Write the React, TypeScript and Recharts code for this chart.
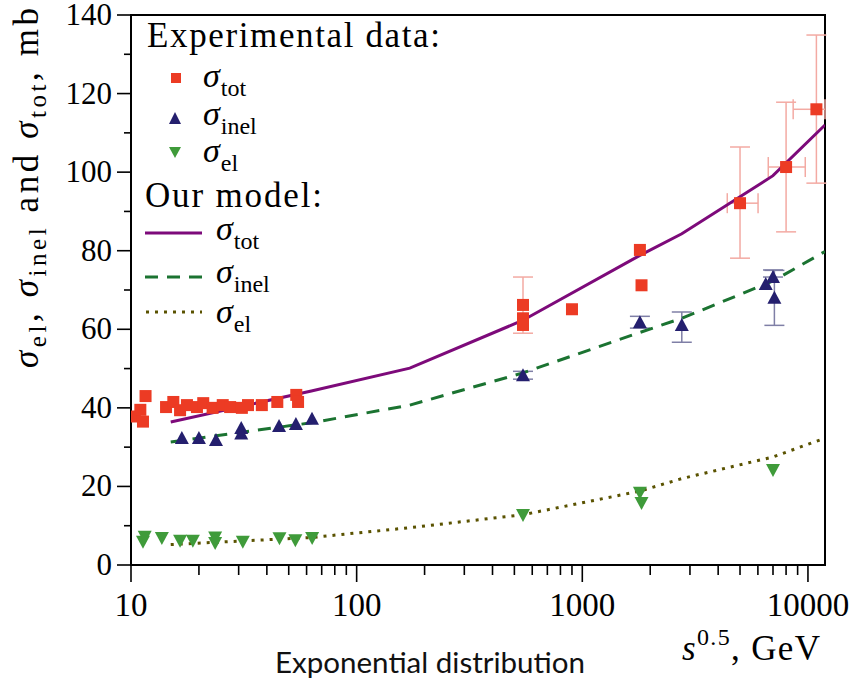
import { ComposedChart, Scatter, Line, XAxis, YAxis, ErrorBar, ReferenceArea } from 'recharts';

// experimental points: x = sqrt(s) GeV, y = mb, ey/ex = [minus, plus]
const totExp = [
  { x: 10.4, y: 37.8 }, { x: 11.0, y: 39.5 }, { x: 11.3, y: 36.5 }, { x: 11.6, y: 43.0 },
  { x: 14.3, y: 40.2 }, { x: 15.4, y: 41.5 }, { x: 16.5, y: 39.4 }, { x: 17.7, y: 40.7 },
  { x: 19.6, y: 40.2 }, { x: 20.9, y: 41.2 }, { x: 23.0, y: 40.0 }, { x: 25.5, y: 40.7 },
  { x: 27.5, y: 40.2 }, { x: 31.0, y: 40.0 }, { x: 33.0, y: 40.7 }, { x: 38.0, y: 40.7 },
  { x: 44.5, y: 41.5 }, { x: 54.0, y: 43.3 }, { x: 55.0, y: 41.5 },
  { x: 546, y: 66.2 }, { x: 546, y: 62.8, ey: [3.8, 10.5] }, { x: 546, y: 61.1 },
  { x: 900, y: 65.1 },
  { x: 1800, y: 80.2 }, { x: 1830, y: 71.2 },
  { x: 5000, y: 92.1, ey: [14, 14.3], ex: [610, 1010] },
  { x: 8000, y: 101.3, ey: [16.5, 16.5], ex: [1330, 1730] },
  { x: 10900, y: 116, ey: [18.8, 18.9], ex: [2300, 1000] },
];

const inelExp = [
  { x: 16.8, y: 32.3 }, { x: 20.0, y: 32.3 }, { x: 23.8, y: 31.8 }, { x: 30.8, y: 34.9 },
  { x: 30.8, y: 33.5 }, { x: 45.3, y: 35.4 }, { x: 53.8, y: 35.9 }, { x: 63.4, y: 37.2 },
  { x: 546, y: 48.3, ey: [1, 1] }, { x: 1800, y: 61.8, ey: [1.5, 1.5] },
  { x: 2760, y: 61.1, ey: [4.4, 3.3] },
  { x: 6500, y: 71.5 }, { x: 7000, y: 73.3, ey: [0, 1.8] }, { x: 7100, y: 68.0, ey: [7, 7] },
];

const elExp = [
  { x: 11.3, y: 5.9 }, { x: 11.5, y: 7.2 }, { x: 13.7, y: 6.9 }, { x: 16.5, y: 6.2 },
  { x: 18.8, y: 6.2 }, { x: 23.6, y: 7.0 }, { x: 23.6, y: 5.6 }, { x: 31.3, y: 5.9 },
  { x: 45.5, y: 6.8 }, { x: 53.5, y: 6.3 }, { x: 63.5, y: 6.9 },
  { x: 546, y: 12.7 }, { x: 1800, y: 18.4 }, { x: 1830, y: 15.8 }, { x: 7000, y: 24.2 },
];

// model curves
const modelX = [15, 63, 172, 546, 1800, 2760, 7000, 11900];
const modelTot = [36.4, 44.3, 50.1, 62.3, 78.8, 84.3, 99.1, 112];
const modelInel = [31.3, 36.2, 40.7, 48.9, 59.2, 62.8, 72.3, 79.8];
const modelEl = [5.2, 7.0, 9.5, 12.8, 18.8, 22.0, 27.5, 32.3];

const xTicks = [
  10, 20, 30, 40, 50, 60, 70, 80, 90,
  100, 200, 300, 400, 500, 600, 700, 800, 900,
  1000, 2000, 3000, 4000, 5000, 6000, 7000, 8000, 9000, 10000,
];
const xDecades = [10, 100, 1000, 10000];
const yTicks = [0, 10, 20, 30, 40, 50, 60, 70, 80, 90, 100, 110, 120, 130, 140];

const toSeries = (ys: number[]) => modelX.map((x, i) => ({ x, y: ys[i] }));

const SERIF = '"Liberation Serif", "Times New Roman", serif';
const RED = '#ec3b24';
const BLUE = '#241f6e';
const GREEN = '#3f9b3a';
const PURPLE = '#7d0a7a';
const DGREEN = '#1b7331';
const OLIVE = '#5a5200';

const Square = (p: any) => <rect x={p.cx - 6} y={p.cy - 6} width={12} height={12} fill={RED} />;
const TriUp = (p: any) => (
  <polygon points={`${p.cx - 7},${p.cy + 6} ${p.cx + 7},${p.cy + 6} ${p.cx},${p.cy - 7}`} fill={BLUE} />
);
const TriDown = (p: any) => (
  <polygon points={`${p.cx - 7},${p.cy - 6} ${p.cx + 7},${p.cy - 6} ${p.cx},${p.cy + 7}`} fill={GREEN} />
);

function XTick({ x, y, payload }: any) {
  const major = xDecades.includes(payload.value);
  return (
    <g>
      <line x1={x} x2={x} y1={y} y2={y + (major ? 17 : 10)} stroke="#000" strokeWidth={1.6} />
      {major && (
        <text x={x} y={y + 51} textAnchor="middle" fontFamily={SERIF} fontSize={33} fill="#000">
          {payload.value}
        </text>
      )}
    </g>
  );
}

function YTick({ x, y, payload }: any) {
  const major = payload.value % 20 === 0;
  return (
    <g>
      <line x1={x - (major ? 14 : 7)} x2={x} y1={y} y2={y} stroke="#000" strokeWidth={1.6} />
      {major && (
        <text x={x - 19} y={y + 10} textAnchor="end" fontFamily={SERIF} fontSize={31} fill="#000">
          {payload.value}
        </text>
      )}
    </g>
  );
}

function Sigma({ x, y, sub }: { x: number; y: number; sub: string }) {
  return (
    <text x={x} y={y} fontFamily={SERIF} fontSize={34} fill="#000">
      <tspan fontStyle="italic">σ</tspan>
      <tspan fontSize={24} dy={9} dx={1}>{sub}</tspan>
    </text>
  );
}

function Overlay() {
  return (
    <svg width={855} height={683} style={{ position: 'absolute', left: 0, top: 0, pointerEvents: 'none' }}>
      {/* legend */}
      <text x={147} y={47} fontFamily={SERIF} fontSize={35} textLength={293} lengthAdjust="spacing">Experimental data:</text>
      <rect x={171} y={73} width={10} height={10} fill={RED} />
      <Sigma x={203} y={87} sub="tot" />
      <polygon points="169,124 181,124 175,112" fill={BLUE} />
      <Sigma x={203} y={125} sub="inel" />
      <polygon points="169,147 181,147 175,158" fill={GREEN} />
      <Sigma x={203} y={162} sub="el" />
      <text x={145} y={207} fontFamily={SERIF} fontSize={35} textLength={177} lengthAdjust="spacing">Our model:</text>
      <line x1={145} x2={202} y1={233} y2={233} stroke={PURPLE} strokeWidth={3} />
      <Sigma x={216} y={240} sub="tot" />
      <line x1={145} x2={202} y1={277} y2={277} stroke={DGREEN} strokeWidth={3} strokeDasharray="13 9" />
      <Sigma x={216} y={283} sub="inel" />
      <line x1={146} x2={202} y1={312} y2={312} stroke={OLIVE} strokeWidth={3} strokeDasharray="3 6" />
      <Sigma x={216} y={323} sub="el" />

      {/* y axis label */}
      <text transform="rotate(-90)" x={-188} y={38} textAnchor="middle" fontFamily={SERIF} fontSize={35}
        textLength={360} lengthAdjust="spacing">
        <tspan fontStyle="italic">σ</tspan>
        <tspan fontSize={25} dy={8}>el</tspan>
        <tspan dy={-8}>, </tspan>
        <tspan fontStyle="italic">σ</tspan>
        <tspan fontSize={25} dy={8}>inel</tspan>
        <tspan dy={-8}> and </tspan>
        <tspan fontStyle="italic">σ</tspan>
        <tspan fontSize={25} dy={8}>tot</tspan>
        <tspan dy={-8}>, mb</tspan>
      </text>

      {/* x axis label */}
      <text x={682} y={660} fontFamily={SERIF} fontSize={35} textLength={138} lengthAdjust="spacing">
        <tspan fontStyle="italic">s</tspan>
        <tspan fontSize={24} dy={-15}>0.5</tspan>
        <tspan dy={15}>, GeV</tspan>
      </text>

      <text x={430} y={673} textAnchor="middle" fontFamily="Lato, 'Open Sans', sans-serif" fontSize={28}
        textLength={310} lengthAdjust="spacingAndGlyphs" fill="#111">
        Exponential distribution
      </text>
    </svg>
  );
}

export default function App() {
  return (
    <div style={{ position: 'absolute', left: 0, top: 0, width: 855, height: 683, background: '#fff' }}>
      <ComposedChart width={855} height={683} margin={{ top: 15, right: 30, left: 51, bottom: 58 }}>
        <XAxis
          dataKey="x"
          type="number"
          scale="log"
          domain={[10, 11900]}
          allowDataOverflow
          ticks={xTicks}
          interval={0}
          height={60}
          tickSize={0}
          tickMargin={0}
          tick={<XTick />}
          axisLine={{ stroke: '#000', strokeWidth: 2 }}
        />
        <YAxis
          type="number"
          domain={[0, 140]}
          ticks={yTicks}
          interval={0}
          width={80}
          tickSize={0}
          tickMargin={0}
          tick={<YTick />}
          axisLine={{ stroke: '#000', strokeWidth: 2 }}
        />
        <ReferenceArea x1={10} x2={11900} y1={0} y2={140} fill="none" stroke="#000" strokeWidth={2} />

        <Scatter data={totExp} dataKey="y" shape={Square} isAnimationActive={false}>
          <ErrorBar dataKey="ey" direction="y" width={10} stroke="#f3aaa3" strokeWidth={1.5} />
          <ErrorBar dataKey="ex" direction="x" width={10} stroke="#f3aaa3" strokeWidth={1.5} />
        </Scatter>
        <Scatter data={inelExp} dataKey="y" shape={TriUp} isAnimationActive={false}>
          <ErrorBar dataKey="ey" direction="y" width={10} stroke="#7f7fa6" strokeWidth={1.5} />
        </Scatter>
        <Scatter data={elExp} dataKey="y" shape={TriDown} isAnimationActive={false} />

        <Line data={toSeries(modelTot)} dataKey="y" type="linear" stroke={PURPLE} strokeWidth={3} dot={false} isAnimationActive={false} />
        <Line data={toSeries(modelInel)} dataKey="y" type="linear" stroke={DGREEN} strokeWidth={3} strokeDasharray="13 9" dot={false} isAnimationActive={false} />
        <Line data={toSeries(modelEl)} dataKey="y" type="linear" stroke={OLIVE} strokeWidth={3} strokeDasharray="3 6" dot={false} isAnimationActive={false} />
      </ComposedChart>
      <Overlay />
    </div>
  );
}
